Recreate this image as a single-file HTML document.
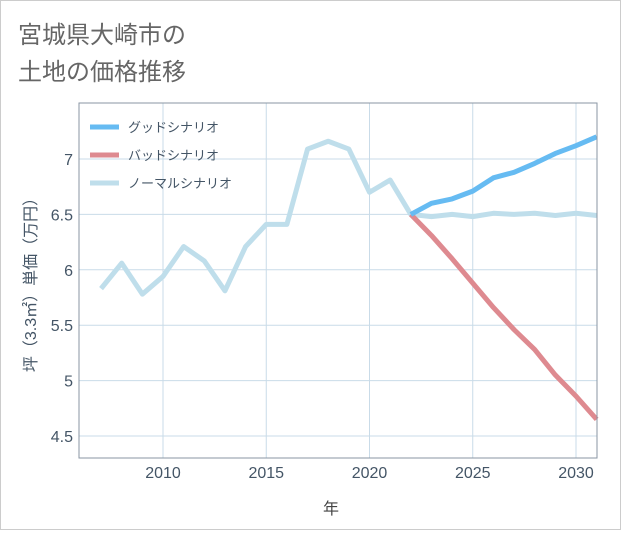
<!DOCTYPE html>
<html><head><meta charset="utf-8"><style>
body{margin:0;background:#fff;font-family:"Liberation Sans","Noto Sans CJK JP",sans-serif}
#wrap{position:relative;width:619px;height:528px;border:1px solid #ccc;background:#fff}
</style></head><body>
<div id="wrap">
<svg id="chart" width="619" height="528" xmlns="http://www.w3.org/2000/svg">
<text x="17" y="42" font-size="24" fill="#666" font-family="Liberation Sans,Noto Sans CJK JP,sans-serif">宮城県大崎市の</text>
<text x="17" y="79" font-size="24" fill="#666" font-family="Liberation Sans,Noto Sans CJK JP,sans-serif">土地の価格推移</text>
<g id="grid"></g><g id="series"></g><g id="legend"></g>
<rect x="78" y="102" width="518" height="355" fill="none" stroke="#8a96a3" stroke-width="1"/>
<text x="330" y="513" font-size="16" fill="#444" text-anchor="middle" font-family="Liberation Sans,Noto Sans CJK JP,sans-serif">年</text>
<text transform="translate(35,280) rotate(-90)" font-size="16" fill="#445566" text-anchor="middle" font-family="Liberation Sans,Noto Sans CJK JP,sans-serif">坪（3.3㎡）単価（万円）</text>
</svg></div>
<script>
const years=[2007,2008,2009,2010,2011,2012,2013,2014,2015,2016,2017,2018,2019,2020,2021,2022,2023,2024,2025,2026,2027,2028,2029,2030,2031];
const normalValues=[5.83,6.06,5.78,5.94,6.21,6.08,5.81,6.21,6.41,6.41,7.09,7.16,7.09,6.70,6.81,6.50,6.48,6.50,6.48,6.51,6.50,6.51,6.49,6.51,6.49];
const futureYears=[2022,2023,2024,2025,2026,2027,2028,2029,2030,2031];
const goodValues=[6.50,6.60,6.64,6.71,6.83,6.88,6.96,7.05,7.12,7.20];
const badValues=[6.50,6.31,6.10,5.88,5.66,5.46,5.28,5.05,4.86,4.65];
const xTicks=[2010,2015,2020,2025,2030];
const yTicks=[4.5,5,5.5,6,6.5,7];
const NS="http://www.w3.org/2000/svg";
const x=v=>162+(v-2010)*(575-162)/20;
const y=v=>158+(7-v)*(435-158)/2.5;
const grid=document.getElementById('grid');
function mk(t,a,p){const e=document.createElementNS(NS,t);for(const k in a)e.setAttribute(k,a[k]);p.appendChild(e);return e;}
xTicks.forEach(t=>{
const l=mk('line',{x1:x(t),x2:x(t),y1:102,y2:457,stroke:'#c9dbe8','stroke-width':1},grid);


const tx=mk('text',{x:x(t),y:477,'font-size':16,fill:'#445566','text-anchor':'middle'},grid);tx.textContent=t;


});
yTicks.forEach(t=>{
const l=mk('line',{x1:78,x2:596,y1:y(t),y2:y(t),stroke:'#c9dbe8','stroke-width':1},grid);


const tx=mk('text',{x:72,y:y(t)+6,'font-size':16,fill:'#445566','text-anchor':'end'},grid);tx.textContent=t;


});
const sg=document.getElementById('series');
function line(xs,vs,c,name){
const p=mk('polyline',{points:xs.map((a,i)=>x(a)+','+y(vs[i])).join(' '),fill:'none',stroke:c,'stroke-width':5,'stroke-linejoin':'round'},sg);


}
line(years,normalValues,'#bfdeeb','normal-scenario-line');
line(futureYears,badValues,'#de8a90','bad-scenario-line');
line(futureYears,goodValues,'#66bbf2','good-scenario-line');
const lg=document.getElementById('legend');
[['グッドシナリオ','#66bbf2'],['バッドシナリオ','#de8a90'],['ノーマルシナリオ','#bfdeeb']].forEach((d,i)=>{
const g=mk('g',{},lg);


const yy=126+i*28;
mk('line',{x1:89,x2:118,y1:yy,y2:yy,stroke:d[1],'stroke-width':5},g);
const t=mk('text',{x:127,y:yy+5,'font-size':13,fill:'#445566'},g);t.textContent=d[0];
});
</script>
</body></html>
